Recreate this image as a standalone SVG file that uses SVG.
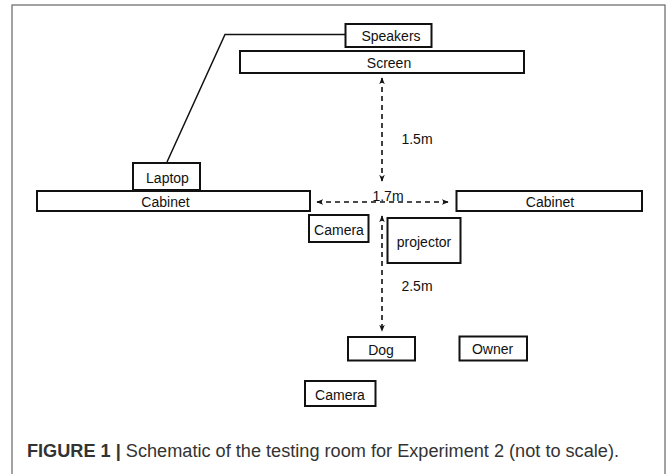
<svg xmlns="http://www.w3.org/2000/svg" width="668" height="474" viewBox="0 0 668 474">
<defs>
<style>
.box{fill:#fff;stroke:#111;stroke-width:2}
.lbl{font-family:"Liberation Sans",Arial,sans-serif;font-size:14px;fill:#111;text-anchor:middle;dominant-baseline:central}
.dash{stroke:#111;stroke-width:1.6;stroke-dasharray:5,4;fill:none}
.wire{stroke:#111;stroke-width:1.5;fill:none}
</style>
<marker id="ah" viewBox="0 0 10 10" refX="9" refY="5" markerWidth="7" markerHeight="7" orient="auto-start-reverse" markerUnits="userSpaceOnUse">
<path d="M0,1 L10,5 L0,9 L3,5 Z" fill="#111"/>
</marker>
</defs>
<rect x="0" y="0" width="668" height="474" fill="#fff"/>
<rect x="12" y="5" width="653" height="480" fill="none" stroke="#666" stroke-width="1.2"/>
<g id="connectors">
<polyline class="wire" points="346,34.5 225,34.5 167,162"/>
<line class="dash" x1="382" y1="78" x2="382" y2="181" marker-start="url(#ah)" marker-end="url(#ah)"/>
<line class="dash" x1="317" y1="202" x2="448" y2="202" marker-start="url(#ah)" marker-end="url(#ah)"/>
<line class="dash" x1="382" y1="216" x2="382" y2="331" marker-start="url(#ah)" marker-end="url(#ah)"/>
<text class="lbl" x="417" y="139">1.5m</text>
<text class="lbl" x="388" y="196">1.7m</text>
<text class="lbl" x="417" y="286">2.5m</text>
</g>
<g id="speakers"><rect class="box" x="345.5" y="24" width="86" height="23"/><text class="lbl" x="391" y="36">Speakers</text></g>
<g id="screen"><rect class="box" x="240" y="51" width="284" height="22"/><text class="lbl" x="389" y="62.5">Screen</text></g>
<g id="laptop"><rect class="box" x="133" y="163" width="67" height="27"/><text class="lbl" x="167.5" y="177.5">Laptop</text></g>
<g id="cabinet-left"><rect class="box" x="37" y="191" width="273" height="20"/><text class="lbl" x="165.5" y="202">Cabinet</text></g>
<g id="cabinet-right"><rect class="box" x="456.5" y="191" width="185.5" height="20"/><text class="lbl" x="550" y="201.5">Cabinet</text></g>
<g id="camera-top"><rect class="box" x="309" y="215" width="59.5" height="27"/><text class="lbl" x="339" y="230">Camera</text></g>
<g id="projector"><rect class="box" x="387.5" y="218" width="73" height="45"/><text class="lbl" x="424" y="242">projector</text></g>
<g id="dog"><rect class="box" x="348" y="337" width="67" height="23.5"/><text class="lbl" x="381" y="350">Dog</text></g>
<g id="owner"><rect class="box" x="459.5" y="336.5" width="67.5" height="24"/><text class="lbl" x="492.5" y="349">Owner</text></g>
<g id="camera-bottom"><rect class="box" x="305" y="381" width="70.5" height="25"/><text class="lbl" x="340" y="394.5">Camera</text></g>
<text x="27" y="457" font-family="'Liberation Sans Narrow','Liberation Sans',Arial,sans-serif" font-size="18" fill="#333" textLength="592" lengthAdjust="spacingAndGlyphs"><tspan font-weight="bold">FIGURE 1 | </tspan>Schematic of the testing room for Experiment 2 (not to scale).</text>
</svg>
